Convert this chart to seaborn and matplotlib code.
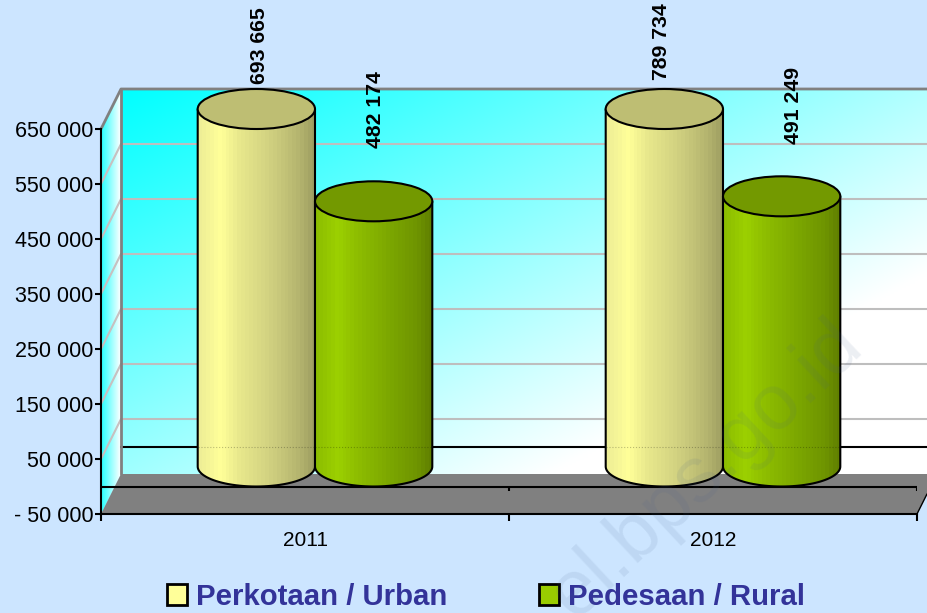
import numpy as np
import pandas as pd
import matplotlib.pyplot as plt
import seaborn as sns
from matplotlib.patches import Ellipse, Patch, PathPatch, Polygon
from matplotlib.path import Path

# Chart data
years = ['2011', '2012']
urban = [693665, 789734]
rural = [482174, 491249]
series_names = ['Perkotaan / Urban', 'Pedesaan / Rural']
y_ticks = [-50000, 50000, 150000, 250000, 350000, 450000, 550000, 650000]
y_tick_labels = ['- 50 000', '50 000', '150 000', '250 000', '350 000', '450 000', '550 000', '650 000']

# Layout of the fake 3D box, in pixels from the top left
W, H = 927, 613
FRONT_L, FRONT_R = 101, 917
FRONT_BOTTOM, FRONT_TOP = 514, 129
DEPTH_X, DEPTH_Y = 20, 40
Y_MIN, Y_MAX = -50000, 650000
PX_PER_UNIT = (FRONT_BOTTOM - FRONT_TOP) / (Y_MAX - Y_MIN)
CAP_HEIGHT = 40 / PX_PER_UNIT

BG = '#CCE5FF'
INK = '#333399'

sns.set_style('white')
plt.rcParams['font.family'] = 'Liberation Sans'

df = pd.DataFrame({
    'year': years * 2,
    'value': urban + rural,
    'area': [series_names[0]] * 2 + [series_names[1]] * 2,
})


def front_y(v):
    return FRONT_BOTTOM - (v - Y_MIN) * PX_PER_UNIT


def make_axes(dx, dy, zorder):
    a = fig.add_axes([(FRONT_L + dx) / W, (H - FRONT_BOTTOM + dy) / H,
                      (FRONT_R - FRONT_L) / W, (FRONT_BOTTOM - FRONT_TOP) / H], zorder=zorder)
    a.patch.set_visible(False)
    return a


fig = plt.figure(figsize=(W / 100, H / 100), dpi=100, facecolor=BG)

# Walls and floor, drawn in pixels
base = fig.add_axes([0, 0, 1, 1], zorder=0)
base.set_xlim(0, W)
base.set_ylim(H, 0)
base.axis('off')

back_l, back_r = FRONT_L + DEPTH_X, FRONT_R + DEPTH_X
back_top, back_bottom = FRONT_TOP - DEPTH_Y, FRONT_BOTTOM - DEPTH_Y

u, v = np.meshgrid(np.linspace(0, 1, 200), np.linspace(0, 1, 200))
red = np.clip((160 * v + 180 * u) / 255, 0, 1)
wall = np.dstack([red, np.ones_like(red), np.ones_like(red)])
base.imshow(wall, extent=(back_l, back_r, back_bottom, back_top), aspect='auto', zorder=1)

side = np.linspace(0, 1, 40).reshape(1, -1)
side_rgb = np.dstack([0.15 + 0.85 * side, np.ones_like(side), np.ones_like(side)])
side_img = base.imshow(side_rgb, extent=(FRONT_L, back_l, FRONT_BOTTOM, back_top), aspect='auto', zorder=1)
side_clip = Polygon([(FRONT_L, FRONT_TOP), (back_l, back_top), (back_l, back_bottom), (FRONT_L, FRONT_BOTTOM)],
                    transform=base.transData)
side_img.set_clip_path(side_clip)

for t in y_ticks[1:-1]:
    yy = front_y(t)
    base.plot([back_l, back_r], [yy - DEPTH_Y, yy - DEPTH_Y], color='#BEBEBE', lw=1.5, zorder=2)
    base.plot([FRONT_L, back_l], [yy, yy - DEPTH_Y], color='#C8C0C0', lw=1.5, zorder=2)

# zero line on the back wall
zero_y = front_y(0)
base.plot([back_l, back_r], [zero_y - DEPTH_Y, zero_y - DEPTH_Y], color='black', lw=1.5, zorder=3)

# wall edges
base.plot([FRONT_L, back_l, back_r], [FRONT_TOP, back_top, back_top], color='#808080', lw=2, zorder=3)
base.plot([back_l, back_l], [back_top, back_bottom], color='#808080', lw=2, zorder=3)

floor = Polygon([(FRONT_L, FRONT_BOTTOM), (back_l, back_bottom), (back_r, back_bottom), (FRONT_R, FRONT_BOTTOM)],
                facecolor='#808080', edgecolor='none', zorder=4)
base.add_patch(floor)
base.set_xlim(0, W)
base.set_ylim(H, 0)

# Cylinders sit halfway back in the box
ax = make_axes(DEPTH_X / 2, DEPTH_Y / 2, 2)
sns.barplot(data=df, x='year', y='value', hue='area', palette=['#FFFF99', '#99CC00'],
            width=0.575, gap=0, saturation=1, legend=False, ax=ax)
ax.set_xlim(-0.5, 1.5)
ax.set_ylim(Y_MIN, Y_MAX)
ax.axis('off')

body_stops = [
    ([0.0, 0.18, 0.35, 0.62, 0.88, 1.0],
     [(238, 238, 150), (255, 255, 153), (232, 232, 140), (208, 208, 128), (180, 180, 110), (158, 158, 98)]),
    ([0.0, 0.18, 0.35, 0.62, 0.88, 1.0],
     [(140, 190, 0), (156, 208, 0), (142, 190, 0), (125, 168, 0), (110, 148, 0), (96, 128, 0)]),
]
cap_colors = ['#BEBE73', '#739900']
label_nudges = [[(3, 25), (-3, 29)], [(2, 53), (12, 52)]]
back_zero = (DEPTH_Y / 2) / PX_PER_UNIT

for s, container in enumerate(ax.containers):
    stops, cols = body_stops[s]
    cols = np.array(cols) / 255
    bands = np.linspace(0, 1, 30)
    grad = np.dstack([np.interp(bands, stops, cols[:, c]) for c in range(3)]).reshape(1, -1, 3)
    for i, bar in enumerate(container):
        x0, w = bar.get_x(), bar.get_width()
        value = int(bar.get_height())
        top = min(value, Y_MAX)
        bar.set_visible(False)

        # body outline: down the left side, round the bottom, up the right side
        ang = np.linspace(np.pi, 2 * np.pi, 60)
        arc_x = x0 + w / 2 + w / 2 * np.cos(ang)
        arc_y = CAP_HEIGHT / 2 * np.sin(ang)
        pts = np.vstack([[x0, top], np.column_stack([arc_x, arc_y]), [x0 + w, top]])
        im = ax.imshow(grad, extent=(x0, x0 + w, -CAP_HEIGHT / 2, top), aspect='auto',
                       interpolation='nearest', zorder=3 + s)
        im.set_clip_path(PathPatch(Path(pts), transform=ax.transData))
        ax.plot([x0, x0 + w], [back_zero, back_zero], color='black', lw=0.8, ls=':', alpha=0.25, zorder=3.05 + s)
        ax.plot(pts[:, 0], pts[:, 1], color='black', lw=1.5, zorder=3.1 + s, clip_on=False)
        ax.add_patch(Ellipse((x0 + w / 2, top), w, CAP_HEIGHT, facecolor=cap_colors[s], edgecolor='black',
                             lw=1.5, zorder=3.2 + s, clip_on=False))
        ax.annotate(f'{value:,}'.replace(',', ' '), xy=(x0 + w / 2, top), xytext=label_nudges[s][i],
                    textcoords='offset pixels', rotation=90, ha='center', va='bottom',
                    fontsize=15.3, fontweight='bold', color='black', annotation_clip=False)
ax.set_xlim(-0.5, 1.5)
ax.set_ylim(Y_MIN, Y_MAX)

# Axes lines and tick labels on the front plane
front = make_axes(0, 0, 1)
front.set_xlim(0, 2)
front.set_ylim(Y_MIN, Y_MAX)
sns.despine(ax=front, top=True, right=True)
for side_name in ['left', 'bottom']:
    front.spines[side_name].set_color('black')
    front.spines[side_name].set_linewidth(1.5)
front.set_yticks(y_ticks)
front.set_yticklabels(y_tick_labels, fontsize=15.5, color='black')
front.tick_params(axis='y', length=4.5, width=1.5, color='black', left=True, pad=1)
front.set_xticks([0, 1, 2])
front.set_xticklabels(['', '', ''])
front.set_xticks([0.5, 1.5], minor=True)
front.set_xticklabels(years, minor=True, fontsize=15, color='black')
front.tick_params(axis='x', which='major', length=5, width=1.5, color='black', bottom=True)
front.tick_params(axis='x', which='minor', length=0, pad=12)
front.axhline(0, color='black', lw=1.5, zorder=5)
front.vlines([1, 2], 0, -9000, color='black', lw=1.5)
front.plot([2, 2 + 10 / (FRONT_R - FRONT_L) * 2], [Y_MIN, Y_MIN + 20 / PX_PER_UNIT], color='black', lw=1, clip_on=False)

# Legend
handles = [Patch(facecolor=c, edgecolor='black', lw=2) for c in ['#FFFF99', '#99CC00']]
fig.legend(handles, series_names, loc='center', bbox_to_anchor=(486 / W, 1 - 597 / H), ncol=2, frameon=False,
           prop={'size': 21.2, 'weight': 'bold'}, labelcolor=INK, handlelength=0.68, handleheight=0.7,
           handletextpad=0.3, columnspacing=3.1, borderpad=0, borderaxespad=0)

# Watermark
fig.text(706 / W, 1 - 470 / H, 'el.bps.go.id', rotation=43, rotation_mode='anchor', ha='center', va='center',
         fontsize=56, color='#46608C', alpha=0.1, zorder=10)

fig.savefig('out.png', dpi=100, facecolor=fig.get_facecolor())
